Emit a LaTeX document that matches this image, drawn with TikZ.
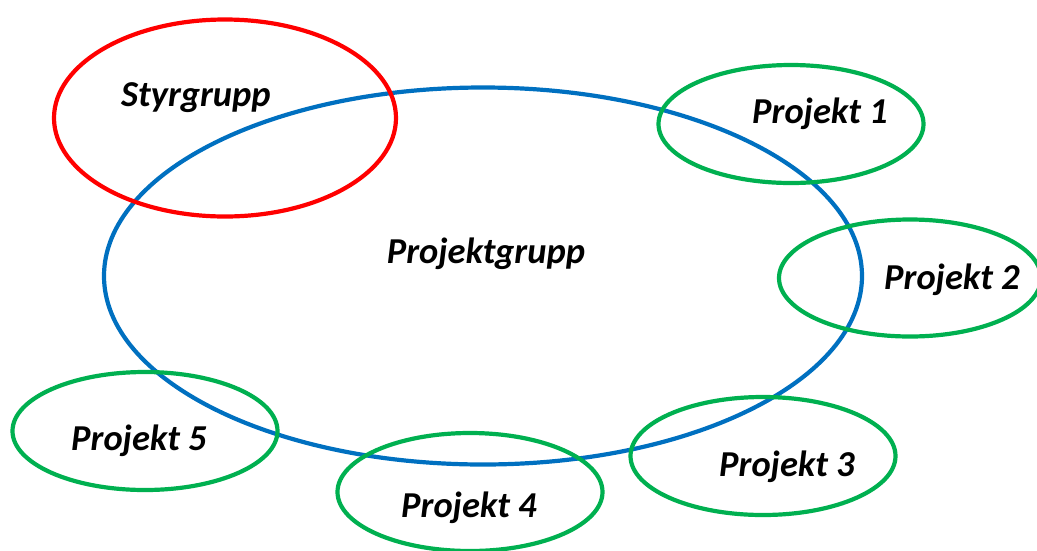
\documentclass[tikz,border=0pt]{standalone}
\usepackage{fontspec}
\setmainfont{Carlito}
\usetikzlibrary{shapes.geometric}
\definecolor{bluec}{RGB}{0,112,192}
\definecolor{redc}{RGB}{255,0,0}
\definecolor{greenc}{RGB}{0,176,80}
\begin{document}
\begin{tikzpicture}[x=1pt,y=-1pt,
  ell/.style={ellipse,draw,line width=4.2pt,inner sep=0pt},
  lbl/.style={font=\fontsize{36.5}{42}\selectfont\bfseries\itshape,inner sep=0pt}]
\useasboundingbox (0,0) rectangle (1037,550);
\node[ell,draw=bluec,minimum width=758,minimum height=377] (pg) at (483,276) {};
\node[ell,draw=redc,minimum width=342,minimum height=197] (sg) at (225,118) {};
\node[ell,draw=greenc,minimum width=265,minimum height=118] (p1) at (791,124) {};
\node[ell,draw=greenc,minimum width=262,minimum height=117] (p2) at (910,278) {};
\node[ell,draw=greenc,minimum width=265,minimum height=118] (p3) at (763,456) {};
\node[ell,draw=greenc,minimum width=265,minimum height=118] (p4) at (470,492) {};
\node[ell,draw=greenc,minimum width=265,minimum height=118] (p5) at (145,431) {};
\node[lbl] (tpg) at (486,254) {Projektgrupp};
\node[lbl] (tsg) at (196,98) {Styrgrupp};
\node[lbl] (t1) at (820,114) {Projekt 1};
\node[lbl] (t2) at (952,280) {Projekt 2};
\node[lbl] (t3) at (787,467) {Projekt 3};
\node[lbl] (t4) at (469,508) {Projekt 4};
\node[lbl] (t5) at (139,441) {Projekt 5};
\end{tikzpicture}
\end{document}
